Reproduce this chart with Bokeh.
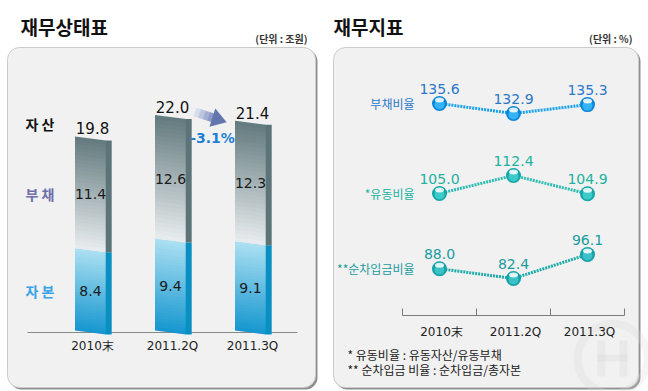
import numpy as np
from bokeh.plotting import figure
from bokeh.models import Range1d, BoxAnnotation
from bokeh.core.properties import value
from bokeh.embed import file_html
from bokeh.resources import INLINE

# ---------------- data ----------------
periods = ["2010末", "2011.2Q", "2011.3Q"]
equity = [8.4, 9.4, 9.1]
debt = [11.4, 12.6, 12.3]
assets = [19.8, 22.0, 21.4]
change_label = "-3.1%"
bs_labels = ["자 산", "부 채", "자 본"]

ratio_names = ["부채비율", "*유동비율", "**순차입금비율"]
debt_ratio = [135.6, 132.9, 135.3]
current_ratio = [105.0, 112.4, 104.9]
net_debt_ratio = [88.0, 82.4, 96.1]

footnotes = ["* 유동비율 : 유동자산/유동부채", "** 순차입금 비율 : 순차입금/총자본"]
titles = ["재무상태표", "재무지표"]
units = ["(단위 : 조원)", "(단위 : %)"]

KR = value("Noto Sans CJK KR")
NUM = value("DejaVu Sans")

W, H = 648, 391
X0, X1 = 0, 648
Y0, Y1 = 391, 0


def mk_range(v1, p1, v2, p2, pa, pb):
    k = (v2 - v1) / (p2 - p1)
    return Range1d(start=v1 + (pa - p1) * k, end=v1 + (pb - p1) * k), abs(1.0 / k)


def mix(c1, c2, t):
    return "#%02x%02x%02x" % tuple(int(round(a + (b - a) * t)) for a, b in zip(c1, c2))


p = figure(width=W, height=H, x_range=Range1d(X0, X1), y_range=Range1d(Y0, Y1),
           output_backend="svg", toolbar_location=None,
           x_axis_location=None, y_axis_location=None, min_border=0,
           outline_line_color=None, background_fill_color="white",
           border_fill_color="white")
for g in p.grid:
    g.visible = False

bx, kbx = mk_range(0, 90, 2, 250, X0, X1)
by, kby = mk_range(0, 332, 22, 332 - 22 * 9.8, Y0, Y1)
lx, klx = mk_range(0, 439, 2, 587, X0, X1)
r1, k1 = mk_range(135.6, 103, 132.9, 113, Y0, Y1)
r2, k2 = mk_range(105.0, 193, 112.4, 175, Y0, Y1)
r3, k3 = mk_range(82.4, 278, 96.1, 254, Y0, Y1)
p.extra_x_ranges = {"bx": bx, "lx": lx}
p.extra_y_ranges = {"by": by, "r1": r1, "r2": r2, "r3": r3}

# ---------------- panels ----------------
for l, r in [(7, 315), (333, 638)]:
    p.add_layout(BoxAnnotation(left=l + 2, right=r + 2, top=49, bottom=389,
                               fill_color="#8f8f8f", fill_alpha=1.0, line_color=None,
                               border_radius=12, level="underlay"))
    p.add_layout(BoxAnnotation(left=l, right=r, top=47, bottom=387,
                               fill_color="#f1f1f1", fill_alpha=1.0, line_color="#cbcbcb",
                               line_alpha=1.0, line_width=1, border_radius=12, level="underlay"))

# titles
p.text(x=[20, 333], y=[26, 26], text=titles, text_font=KR, text_font_size=value("19px"),
       text_font_style=value("bold"), text_color="#111111", text_baseline="middle", text_align="left")
p.text(x=[307, 632], y=[38, 38], text=units, text_font=KR, text_font_size=value("10px"),
       text_font_style=value("bold"), text_color="#333333", text_baseline="middle", text_align="right")

# ---------------- left: balance sheet bars ----------------
p.segment(x0=[27], y0=[332], x1=[297], y1=[332], line_color="#8a8a8a", line_width=1)

hw = 15.5 / kbx
dd = 6.0 / kbx
hs = 2.0 / kby
ov = 1.5 / kby

xs, ys, cols = [], [], []
debt_top, debt_bot = (98, 121, 125), (233, 237, 239)
eq_top, eq_bot = (172, 224, 242), (20, 150, 207)


def add_grad(i, y_lo, y_hi, c_lo, c_hi, n=30):
    xl, xr = i - hw, i + hw
    edges = np.linspace(y_lo, y_hi, n + 1)
    for j in range(n):
        a, b = edges[j], edges[j + 1]
        bb = b + (ov if j < n - 1 else 0.0)
        xs.append([xl, xr, xr, xl])
        ys.append([a + hs, a - hs, bb - hs, bb + hs])
        cols.append(mix(c_lo, c_hi, (j + 0.5) / n))


for i in range(3):
    add_grad(i, 0.0, equity[i], eq_bot, eq_top)
    add_grad(i, equity[i], equity[i] + debt[i], debt_bot, debt_top)

p.patches(xs, ys, fill_color=cols, line_color=None, x_range_name="bx", y_range_name="by")

sx, sy, sc = [], [], []
for i in range(3):
    xr = i + hw - 0.3 / kbx
    sx.append([xr, xr + dd, xr + dd, xr])
    sy.append([-hs, -hs, equity[i] - hs, equity[i] - hs])
    sc.append("#0a8fc2")
    sx.append([xr, xr + dd, xr + dd, xr])
    sy.append([equity[i] - hs, equity[i] - hs, assets[i] - hs, assets[i] - hs])
    sc.append("#5c7478")
p.patches(sx, sy, fill_color=sc, line_color=None, x_range_name="bx", y_range_name="by")

idx = [0, 1, 2]
p.text(x=idx, y=assets, text=[f"{v:.1f}" for v in assets], x_range_name="bx", y_range_name="by",
       text_align="center", text_baseline="bottom", y_offset=-4, x_offset=2,
       text_font=NUM, text_font_size=value("15px"), text_color="#111111")
p.text(x=idx, y=[e + d / 2 for e, d in zip(equity, debt)], text=[f"{v:.1f}" for v in debt],
       x_range_name="bx", y_range_name="by", text_align="center", text_baseline="middle",
       text_font=NUM, text_font_size=value("14px"), text_color="#1a1a1a")
p.text(x=idx, y=[e / 2 for e in equity], text=[f"{v:.1f}" for v in equity],
       x_range_name="bx", y_range_name="by", text_align="center", text_baseline="middle",
       text_font=NUM, text_font_size=value("14px"), text_color="#1a1a1a")
p.text(x=idx, y=[345] * 3, text=periods, x_range_name="bx", text_align="center", text_baseline="middle",
       x_offset=2, text_font=NUM, text_font_size=value("12px"), text_color="#222222")

# row labels aligned to the first bar
p.text(x=[25], y=[assets[0]], text=[bs_labels[0]], y_range_name="by", text_baseline="bottom", y_offset=-4,
       text_font=KR, text_font_size=value("14px"), text_font_style=value("bold"), text_color="#111111")
p.text(x=[25], y=[equity[0] + debt[0] / 2], text=[bs_labels[1]], y_range_name="by", text_baseline="middle",
       text_font=KR, text_font_size=value("14px"), text_font_style=value("bold"), text_color="#6e6eaa")
p.text(x=[25], y=[equity[0] / 2], text=[bs_labels[2]], y_range_name="by", text_baseline="middle",
       text_font=KR, text_font_size=value("14px"), text_font_style=value("bold"), text_color="#36a2e8")

# arrow
ang = np.deg2rad(18)
ox, oy = 190.0, 110.0
u = np.array([np.cos(ang), np.sin(ang)])
nrm = np.array([-np.sin(ang), np.cos(ang)])


def pt(s, t):
    q = np.array([ox, oy]) + s * u + t * nrm
    return q[0], q[1]


shaft_cols = ["#eef0f5", "#d6dcea", "#bcc5de", "#a2afd2", "#8a9ac6"]
segs = np.linspace(0, 24, 6)
axs, ays = [], []
for j in range(5):
    a, b = segs[j], segs[j + 1] + 0.6
    pts = [pt(a, -4.5), pt(b, -4.5), pt(b, 4.5), pt(a, 4.5)]
    axs.append([q[0] for q in pts])
    ays.append([q[1] for q in pts])
p.patches(axs, ays, fill_color=shaft_cols, line_color=None)
head = [pt(23, -9.5), pt(38, 0), pt(23, 9.5)]
p.patch([q[0] for q in head], [q[1] for q in head], fill_color="#6276ad", line_color=None)
p.text(x=[212], y=[137], text=[change_label], text_align="center", text_baseline="middle",
       text_font=NUM, text_font_size=value("14px"), text_font_style=value("bold"), text_color="#1f7fd6")

# ---------------- right: ratios ----------------
series = [
    (ratio_names[0], debt_ratio, "r1", k1, "#1aa2e8", "#0a86d8", "#35b4f5", "#2a78c8"),
    (ratio_names[1], current_ratio, "r2", k2, "#2cbcb2", "#14a6a8", "#3fcaca", "#22b2a0"),
    (ratio_names[2], net_debt_ratio, "r3", k3, "#1eaca8", "#13a0a8", "#3cc2c6", "#1a9c9e"),
]

# watermark (faint, drawn first so everything else sits on top)
p.annulus(x=[612], y=[358], inner_radius=31, outer_radius=39, fill_color="#d8d8d8",
          fill_alpha=0.25, line_color=None)
p.quad(left=[597, 619, 597], right=[605, 627, 627], top=[340, 340, 354], bottom=[376, 376, 361],
       fill_color="#d6d6d6", fill_alpha=0.3, line_color=None)

# axis
p.segment(x0=[-0.5], y0=[315], x1=[2.5], y1=[315], x_range_name="lx", line_color="#7a7a7a", line_width=1)
p.segment(x0=[-0.5, 0.5, 1.5, 2.5], y0=[308] * 4, x1=[-0.5, 0.5, 1.5, 2.5], y1=[315] * 4,
          x_range_name="lx", line_color="#7a7a7a", line_width=1)
p.text(x=idx, y=[331] * 3, text=periods, x_range_name="lx", text_align="center", text_baseline="middle",
       x_offset=2, text_font=NUM, text_font_size=value("12px"), text_color="#222222")

for name, vals, rn, k, lc, mc, ic, tc in series:
    p.line(x=idx, y=vals, x_range_name="lx", y_range_name=rn, line_color=lc, line_width=3, line_dash="2 1")
    p.scatter(x=idx, y=vals, x_range_name="lx", y_range_name=rn, size=15, fill_color=mc, line_color=None)
    p.scatter(x=idx, y=[v - 1.0 / k for v in vals], x_range_name="lx", y_range_name=rn, size=10,
              fill_color=ic, line_color=None)
    p.ellipse(x=idx, y=[v + 3.5 / k for v in vals], width=9, height=5, width_units="screen",
              height_units="screen", x_range_name="lx", y_range_name=rn,
              fill_color="white", fill_alpha=0.85, line_color=None)
    p.text(x=idx, y=vals, text=[f"{v:.1f}" for v in vals], x_range_name="lx", y_range_name=rn,
           text_align="center", text_baseline="bottom", y_offset=-10,
           text_font=NUM, text_font_size=value("14px"), text_color=tc)
    p.text(x=[0], y=[vals[0]], text=[name], x_range_name="lx", y_range_name=rn,
           text_align="right", text_baseline="middle", x_offset=-25,
           text_font=KR, text_font_size=value("12px"), text_color=tc)

p.text(x=[347, 347], y=[354, 369], text=footnotes, text_align="left", text_baseline="middle",
       text_font=KR, text_font_size=value("12px"), text_color="#222222")

open("out.html", "w").write(file_html(p, INLINE))
